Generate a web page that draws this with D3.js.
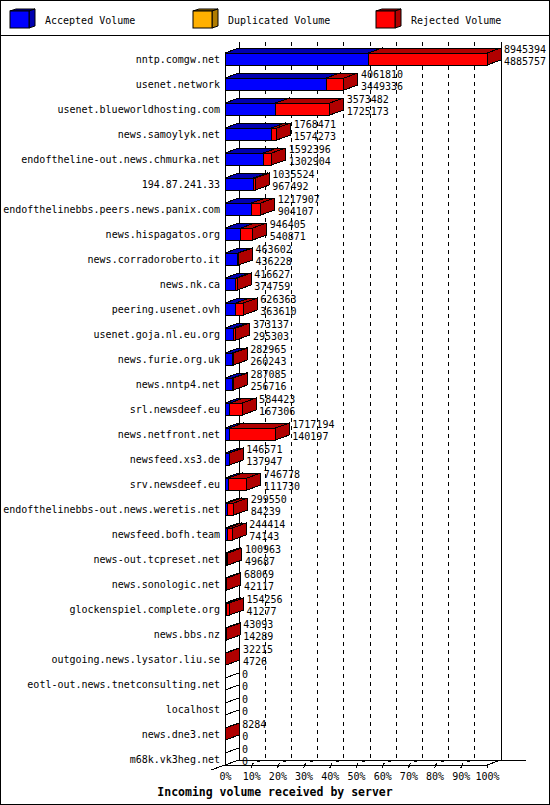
<!DOCTYPE html>
<html>
<head>
<meta charset="utf-8">
<script src="https://cdn.jsdelivr.net/npm/d3@7"></script>
<style>
  body { margin: 0; background: #fff; }
  svg { display: block; }
  text { font-family: "DejaVu Sans Mono", "Liberation Mono", monospace; font-size: 10px; fill: #000; }
  .title { font-weight: bold; font-size: 11.5px; }
</style>
</head>
<body>
<svg id="chart" width="550" height="805"></svg>
<script>
// servers, sorted by accepted volume
const hosts = [
    "nntp.comgw.net", "usenet.network", "usenet.blueworldhosting.com",
    "news.samoylyk.net", "endoftheline-out.news.chmurka.net", "194.87.241.33",
    "endofthelinebbs.peers.news.panix.com", "news.hispagatos.org",
    "news.corradoroberto.it", "news.nk.ca", "peering.usenet.ovh",
    "usenet.goja.nl.eu.org", "news.furie.org.uk", "news.nntp4.net",
    "srl.newsdeef.eu", "news.netfront.net", "newsfeed.xs3.de", "srv.newsdeef.eu",
    "endofthelinebbs-out.news.weretis.net", "newsfeed.bofh.team",
    "news-out.tcpreset.net", "news.sonologic.net", "glockenspiel.complete.org",
    "news.bbs.nz", "outgoing.news.lysator.liu.se",
    "eotl-out.news.tnetconsulting.net", "localhost", "news.dne3.net",
    "m68k.vk3heg.net"
];
// top number = total incoming volume, bottom number = accepted volume
const totalVolume = [
    8945394, 4061810, 3573482, 1768471, 1592396, 1035524, 1217907, 946405,
    463602, 416627, 626363, 373137, 282965, 287085, 584423, 1717194, 146571,
    746778, 299550, 244414, 100963, 68069, 154256, 43093, 32215, 0, 0, 8284, 0
];
const acceptedVolume = [
    4885757, 3449336, 1725173, 1574273, 1302904, 967492, 904107, 540871,
    436228, 374759, 363610, 295303, 260243, 256716, 167306, 140197, 137947,
    111730, 84239, 74143, 49687, 42117, 41277, 14289, 4726, 0, 0, 0, 0
];
const duplicatedVolume = [
    0, 0, 0, 0, 0, 0, 0, 0, 0, 0, 0, 0, 0, 0, 0, 0, 0, 0, 0, 0, 0, 0, 0, 0, 0, 0, 0, 0, 0
];
const legendLabels = ["Accepted Volume", "Duplicated Volume", "Rejected Volume"];
const percentTicks = [0, 10, 20, 30, 40, 50, 60, 70, 80, 90, 100];
const axisTitle = "Incoming volume received by server";

const frontColors = {acc: "#0000ff", dup: "#ffb000", rej: "#ff0000"};
const shadeColors = {acc: "#0000b0", dup: "#b07c00", rej: "#b00000"};

const width = 550, height = 805;
const dx = 14, dy = 5, half = 6;   // 3d depth and half bar height
const floorY = 765;

const svg = d3.select("#chart");

const x = d3.scaleLinear().domain([0, d3.max(totalVolume)]).range([225, 487]);
const pct = d3.scaleLinear().domain([0, 100]).range([225, 487]);
const y = d3.scalePoint().domain(hosts).range([59, 759]);

const line = d3.line();

// frame + legend box
svg.append("rect")
    .attr("x", 0.5).attr("y", 0.5)
    .attr("width", width - 1).attr("height", height - 1)
    .attr("fill", "none").attr("stroke", "black");
svg.append("line")
    .attr("x1", 0).attr("x2", width)
    .attr("y1", 35.5).attr("y2", 35.5)
    .attr("stroke", "black");

const legend = svg.append("g").attr("class", "legend");
["acc", "dup", "rej"].forEach((key, i) => {
    const g = legend.append("g").attr("transform", `translate(${10 + i * 183},0)`);
    const x0 = 0, x1 = 19, y0 = 11, y1 = 28, ddx = 6, ddy = 2;
    g.append("path")
        .attr("d", line([[x0, y0], [x0 + ddx, y0 - ddy], [x1 + ddx, y0 - ddy], [x1, y0]]) + "Z")
        .attr("fill", shadeColors[key]).attr("stroke", "black");
    g.append("path")
        .attr("d", line([[x1, y0], [x1 + ddx, y0 - ddy], [x1 + ddx, y1 - ddy], [x1, y1]]) + "Z")
        .attr("fill", shadeColors[key]).attr("stroke", "black");
    g.append("rect")
        .attr("x", x0).attr("y", y0)
        .attr("width", x1 - x0).attr("height", y1 - y0)
        .attr("fill", frontColors[key]).attr("stroke", "black");
    g.append("text")
        .attr("x", 35).attr("y", 23.5)
        .text(legendLabels[i]);
});

// back wall and floor
const wall = svg.append("g").attr("class", "wall").attr("shape-rendering", "crispEdges");
percentTicks.forEach(p => {
    const inner = p > 0 && p < 100;
    wall.append("line")
        .attr("x1", pct(p) + dx).attr("x2", pct(p) + dx)
        .attr("y1", 42).attr("y2", floorY - dy)
        .attr("stroke", "black")
        .attr("stroke-dasharray", inner ? "4,4" : null);
});
wall.append("line")
    .attr("x1", pct(0) + dx).attr("x2", 526)
    .attr("y1", floorY - dy).attr("y2", floorY - dy)
    .attr("stroke", "black");
wall.append("line")
    .attr("x1", pct(0)).attr("x2", pct(100))
    .attr("y1", floorY).attr("y2", floorY)
    .attr("stroke", "black");
wall.append("path")
    .attr("d", line([[pct(0) - dx, floorY + dy], [pct(0) + dx, floorY - dy]]))
    .attr("fill", "none").attr("stroke", "black");
wall.append("path")
    .attr("d", line([[pct(100), floorY], [pct(100) + dx, floorY - dy]]))
    .attr("fill", "none").attr("stroke", "black");

// small 3d tick marks on the floor
percentTicks.filter(p => p > 0).forEach(p => {
    const tx = pct(p);
    if (p === 100) {
        wall.append("line")
            .attr("x1", tx).attr("x2", tx)
            .attr("y1", floorY).attr("y2", floorY + 3)
            .attr("stroke", "black");
        return;
    }
    wall.append("path")
        .attr("d", line([[tx, floorY + 3], [tx + 2, floorY - 2]]))
        .attr("fill", "none").attr("stroke", "black");
    wall.append("rect")
        .attr("x", tx + 6).attr("y", floorY - 5)
        .attr("width", 3).attr("height", 2)
        .attr("fill", "black");
});

// bars
const rows = hosts.map((h, i) => {
    const acc = acceptedVolume[i];
    const dup = duplicatedVolume[i];
    const tot = totalVolume[i];
    return {
        host: h, total: tot, accepted: acc,
        segments: [
            {key: "acc", v0: 0, v1: acc},
            {key: "dup", v0: acc, v1: acc + dup},
            {key: "rej", v0: acc + dup, v1: tot}
        ]
    };
});

const bars = svg.append("g").attr("class", "bars").attr("shape-rendering", "crispEdges");

function drawBox(g, x0, x1, c, front, shade)
{
    g.append("path")
        .attr("d", line([[x0, c - half], [x0 + dx, c - half - dy], [x1 + dx, c - half - dy], [x1, c - half]]) + "Z")
        .attr("fill", shade).attr("stroke", "black");
    g.append("path")
        .attr("d", line([[x1, c - half], [x1 + dx, c - half - dy], [x1 + dx, c + half - dy], [x1, c + half]]) + "Z")
        .attr("fill", shade).attr("stroke", "black");
    g.append("path")
        .attr("d", line([[x0, c - half], [x1, c - half], [x1, c + half], [x0, c + half]]) + "Z")
        .attr("fill", front).attr("stroke", "black");
}

rows.forEach(r => {
    const c = y(r.host);
    const g = bars.append("g");
    if (r.total === 0) {
        drawBox(g, x(0), x(0), c, "none", "none");
        return;
    }
    r.segments.filter(s => s.v1 > s.v0).forEach(s => {
        drawBox(g, x(s.v0), x(s.v1), c, frontColors[s.key], shadeColors[s.key]);
    });
});

// front left axis line
svg.append("line")
    .attr("x1", pct(0)).attr("x2", pct(0))
    .attr("y1", y(hosts[0]) - half).attr("y2", floorY)
    .attr("stroke", "black")
    .attr("shape-rendering", "crispEdges");

// value labels
const values = svg.append("g").attr("class", "values");
rows.forEach(r => {
    const c = y(r.host);
    const lx = x(r.total) + dx + 3;
    values.append("text").attr("x", lx).attr("y", c - 6).text(r.total);
    values.append("text").attr("x", lx).attr("y", c + 6).text(r.accepted);
});

// axes
const yAxis = svg.append("g")
    .attr("transform", `translate(${pct(0)},0)`)
    .call(d3.axisLeft(y).tickSize(0).tickPadding(5));
yAxis.select(".domain").remove();

const xAxis = svg.append("g")
    .attr("transform", `translate(0,${floorY})`)
    .call(d3.axisBottom(pct).tickValues(percentTicks).tickFormat(d => d + "%").tickSize(0).tickPadding(8));
xAxis.select(".domain").remove();

svg.append("text")
    .attr("class", "title")
    .attr("x", width / 2).attr("y", 796)
    .attr("text-anchor", "middle")
    .text(axisTitle);
</script>
</body>
</html>
